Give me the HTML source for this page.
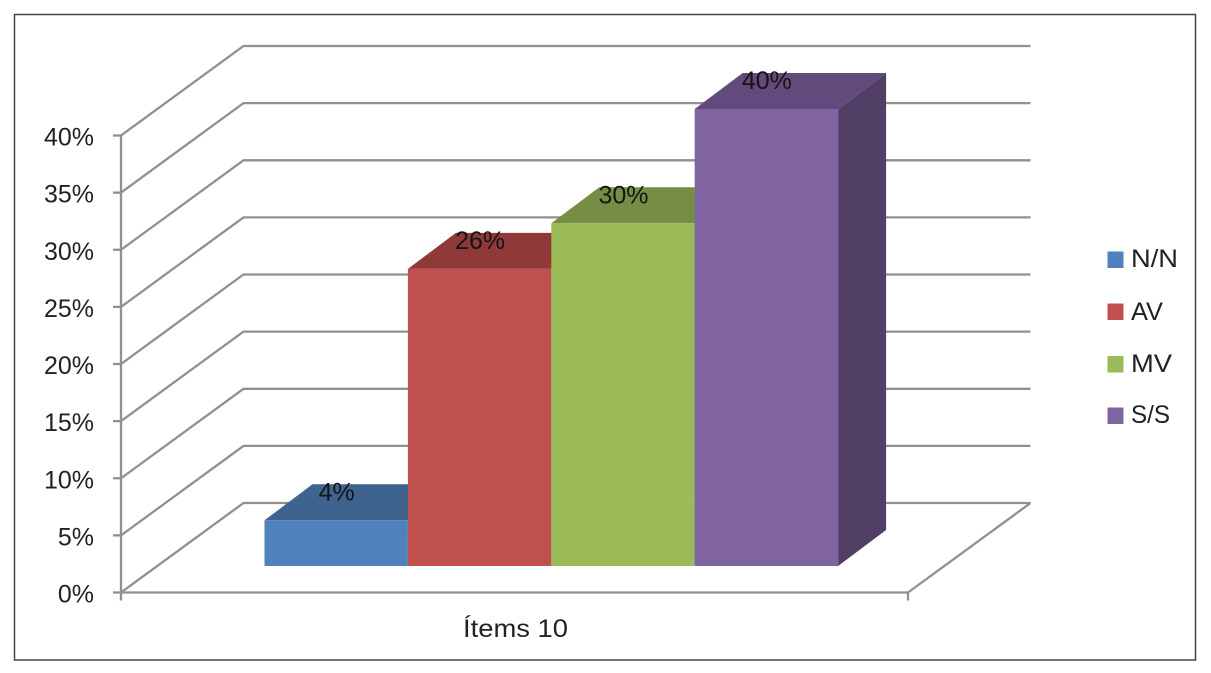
<!DOCTYPE html>
<html lang="es">
<head>
<meta charset="utf-8">
<title>Ítems 10</title>
<style>
html,body{margin:0;padding:0;background:#fff;}
svg{display:block;filter:blur(0.35px);}
text{font-family:"Liberation Sans",sans-serif;fill:#222;}
</style>
</head>
<body>
<svg id="chart" width="1211" height="673" viewBox="0 0 1211 673" xmlns="http://www.w3.org/2000/svg">
  <rect x="0" y="0" width="1211" height="673" fill="#fff"/>
  <rect x="14.5" y="14.5" width="1181" height="645.5" fill="#fff" stroke="#444" stroke-width="1.5"/>
  <g id="grid"></g>
  <g id="axes"></g>
  <g id="bars"></g>
  <g id="labels"></g>
  <text x="515.5" y="637" font-size="25" text-anchor="middle" textLength="105" lengthAdjust="spacingAndGlyphs">Ítems 10</text>
  <g>
    <g>
      <rect x="1107.5" y="251.5" width="16" height="16.5" fill="#4f81bd"/>
      <text x="1131" y="267" font-size="25" textLength="47" lengthAdjust="spacingAndGlyphs">N/N</text>
    </g>
    <g>
      <rect x="1107.5" y="303.5" width="16" height="16.5" fill="#c0504d"/>
      <text x="1131" y="320" font-size="25" textLength="32" lengthAdjust="spacingAndGlyphs">AV</text>
    </g>
    <g>
      <rect x="1107.5" y="356" width="16" height="16.5" fill="#9bbb59"/>
      <text x="1131" y="372" font-size="25" textLength="41" lengthAdjust="spacingAndGlyphs">MV</text>
    </g>
    <g>
      <rect x="1107.5" y="407.5" width="16" height="16.5" fill="#8064a2"/>
      <text x="1131" y="423" font-size="25" textLength="39" lengthAdjust="spacingAndGlyphs">S/S</text>
    </g>
  </g>
</svg>
<script>
const seriesNames = ['N/N', 'AV', 'MV', 'S/S'];
const seriesValues = [4, 26, 30, 40];
const axisTicks = [0, 5, 10, 15, 20, 25, 30, 35, 40];
const frontColors = ['#4f81bd', '#c0504d', '#9bbb59', '#8064a2'];
const topColors = ['#3e638f', '#8f3a38', '#758d44', '#624b7c'];
const sideColors = ['#365579', '#7a3230', '#637a39', '#523f66'];

const NS = 'http://www.w3.org/2000/svg';
const AXIS_X = 121, AXIS_BOTTOM = 592.5, AXIS_TOP = 135.5, AXIS_MAX = 40, AXIS_END = 908;
const WALL_DX = 122.5, WALL_DY = -89.5;
const BAR_BASE = 566, BAR_LEFT = 264.5, BAR_WIDTH = 143.4, BAR_DX = 48, BAR_DY = -36;
const GRID = '#909090';
const GRID_W = 2.3;

function yAxis(v) { return AXIS_BOTTOM - (v / AXIS_MAX) * (AXIS_BOTTOM - AXIS_TOP); }
function barHeight(v) { return (v / AXIS_MAX) * (AXIS_BOTTOM - AXIS_TOP); }
function xBar(i) { return BAR_LEFT + i * BAR_WIDTH; }
function make(tag, parent, attrs) {
  const el = document.createElementNS(NS, tag);
  for (const k in attrs) el.setAttribute(k, attrs[k]);
  parent.appendChild(el);
  return el;
}
function pts(list) { return list.map(p => p[0].toFixed(1) + ',' + p[1].toFixed(1)).join(' '); }

const gridGroup = document.getElementById('grid');
const axesGroup = document.getElementById('axes');
const barsGroup = document.getElementById('bars');
const labelsGroup = document.getElementById('labels');

axisTicks.forEach(function (t) {
  const y = yAxis(t);
  const line = make('polyline', gridGroup, {
    points: pts([[AXIS_X, y], [AXIS_X + WALL_DX, y + WALL_DY], [AXIS_END + WALL_DX, y + WALL_DY]]),
    fill: 'none', stroke: GRID, 'stroke-width': GRID_W
  });
  
  

  const tick = make('line', axesGroup, { x1: AXIS_X - 8, x2: AXIS_X, y1: y, y2: y, stroke: GRID, 'stroke-width': GRID_W });
  
  

  const label = make('text', axesGroup, { x: 94, y: y + 10, 'font-size': 25, 'text-anchor': 'end' });
  
  
  label.textContent = t + '%';
});

const yLine = make('line', axesGroup, { x1: AXIS_X, x2: AXIS_X, y1: yAxis(AXIS_MAX), y2: AXIS_BOTTOM + 8, stroke: GRID, 'stroke-width': GRID_W });



const xLine = make('line', axesGroup, { x1: AXIS_X, x2: AXIS_END, y1: AXIS_BOTTOM, y2: AXIS_BOTTOM, stroke: GRID, 'stroke-width': GRID_W });



const xTick = make('line', axesGroup, { x1: AXIS_END, x2: AXIS_END, y1: AXIS_BOTTOM, y2: AXIS_BOTTOM + 8, stroke: GRID, 'stroke-width': GRID_W });



const floorEdge = make('line', axesGroup, { x1: AXIS_END, x2: AXIS_END + WALL_DX, y1: AXIS_BOTTOM, y2: AXIS_BOTTOM + WALL_DY, stroke: GRID, 'stroke-width': GRID_W });



seriesValues.forEach(function (v, i) {
  const x0 = xBar(i), x1 = xBar(i + 1), yTop = BAR_BASE - barHeight(v);

  const side = make('polygon', barsGroup, {
    points: pts([[x1, BAR_BASE], [x1 + BAR_DX, BAR_BASE + BAR_DY], [x1 + BAR_DX, yTop + BAR_DY], [x1, yTop]]),
    fill: sideColors[i]
  });
  
  

  const top = make('polygon', barsGroup, {
    points: pts([[x0, yTop], [x0 + BAR_DX, yTop + BAR_DY], [x1 + BAR_DX, yTop + BAR_DY], [x1, yTop]]),
    fill: topColors[i]
  });
  
  

  const front = make('rect', barsGroup, { x: x0, y: yTop, width: BAR_WIDTH, height: barHeight(v), fill: frontColors[i] });
  
  

  const label = make('text', labelsGroup, { x: (x0 + x1) / 2 + 0.5, y: yTop - 20, 'font-size': 25, 'text-anchor': 'middle', style: 'fill:#151515' });
  
  
  label.textContent = v + '%';
});
</script>
</body>
</html>
